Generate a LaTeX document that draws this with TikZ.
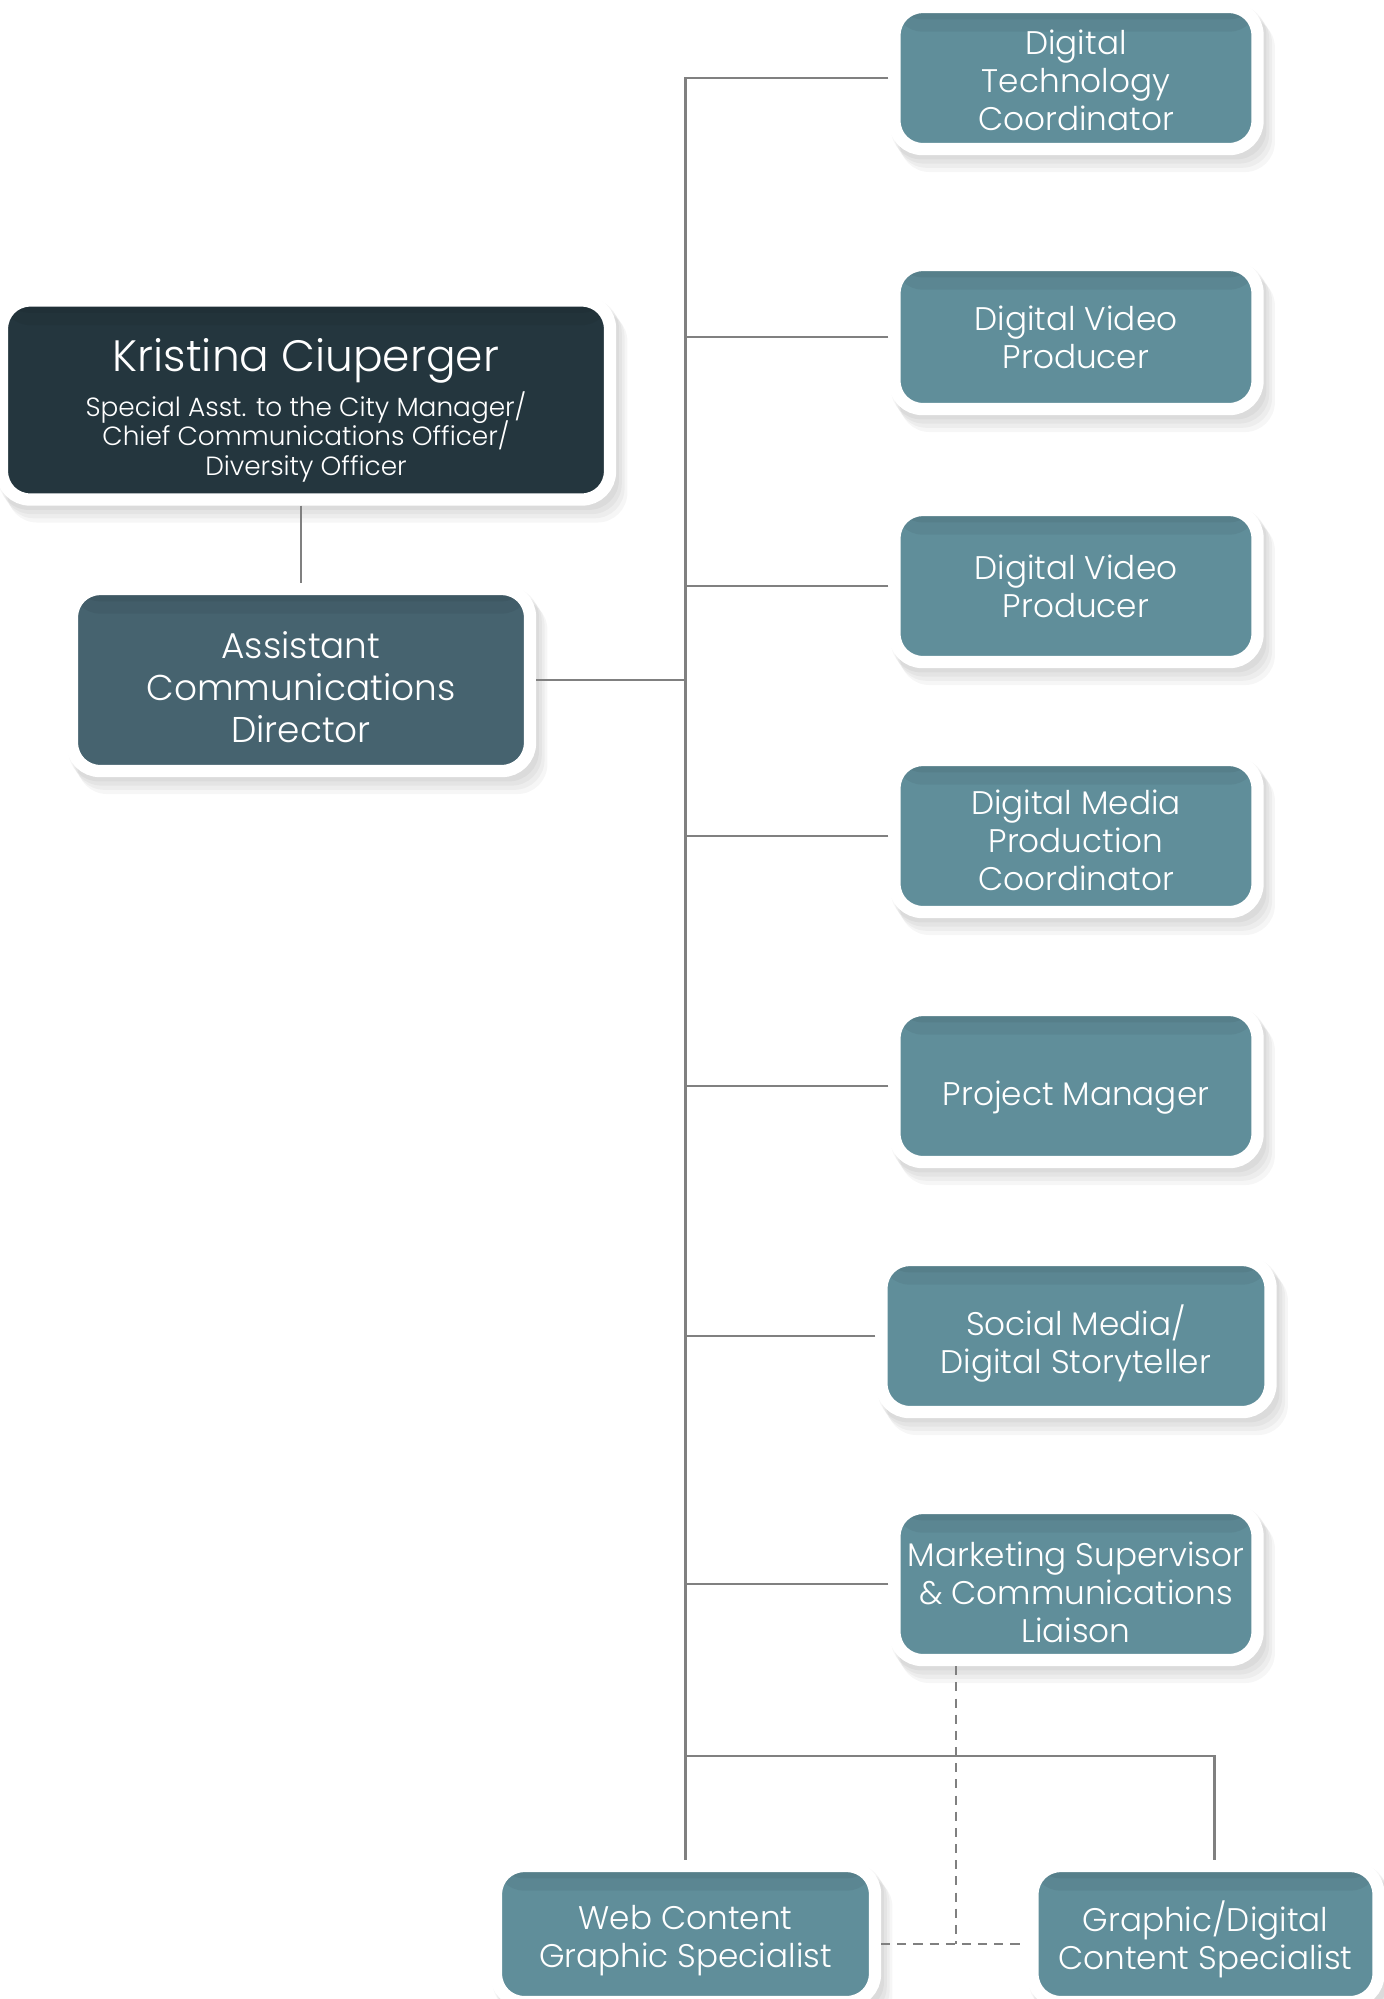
\documentclass[tikz,border=0pt]{standalone}
\usepackage{fontspec}
\setmainfont{Poppins Light}
\usetikzlibrary{backgrounds}

\definecolor{chiefbg}{RGB}{36,54,62}
\definecolor{deputybg}{RGB}{70,99,111}
\definecolor{staffbg}{RGB}{96,142,154}
\definecolor{linkgray}{RGB}{128,128,128}

\tikzset{
  card/.style={draw=white, line width=3.5pt, rounded corners=0.28cm, text=white,
    align=center, inner sep=0pt,
    path picture={
      \fill[black, opacity=0.05] (path picture bounding box.north west) rectangle ([yshift=-7pt]path picture bounding box.north east);
      \fill[black, opacity=0.05] (path picture bounding box.north west) rectangle ([yshift=-3.5pt]path picture bounding box.north east);}},
  staff/.style={card, fill=staffbg, minimum width=3.63cm, minimum height=1.52cm,
    font=\fontsize{9.3}{10.8}\selectfont},
  sink/.style={text depth=0pt, text height=#1},
  link/.style={draw=linkgray, line width=0.8pt},
  dotlink/.style={link, dash pattern=on 2.6pt off 2pt},
  haze/.style={fill=black, opacity=#1, rounded corners=0.3cm}
}

\begin{document}
\begin{tikzpicture}
	\useasboundingbox (0,0) rectangle (13.84,-19.99);

	\node[card, fill=chiefbg, minimum width=6.08cm, minimum height=1.99cm, sink=43.1pt,
		font={\fontsize{7.5}{8.5}\selectfont\lineskiplimit -10pt\relax}] (kc) at (3.06,-4.00)
		{\fontsize{12.5}{14}\selectfont Kristina Ciuperger\\[4.2pt]
		 Special Asst. to the City Manager/\\Chief Communications Officer/\\Diversity Officer};
	\node[card, fill=deputybg, minimum width=4.58cm, minimum height=1.82cm, sink=35.6pt,
		font=\fontsize{10.2}{11.9}\selectfont] (acd) at (3.01,-6.80) {Assistant\\Communications\\Director};

	\node[staff, minimum height=1.42cm, sink=29.7pt] (dtc) at (10.76,-0.78) {Digital\\Technology\\Coordinator};
	\node[staff, minimum height=1.44cm] (dvp1) at (10.76,-3.37) {Digital Video\\Producer};
	\node[staff] (dvp2) at (10.76,-5.86) {Digital Video\\Producer};
	\node[staff, sink=31.2pt] (dmpc) at (10.76,-8.36) {Digital Media\\Production\\Coordinator};
	\node[staff, sink=11.2pt] (pm) at (10.76,-10.86) {Project Manager};
	\node[staff, minimum width=3.89cm, sink=21.1pt] (smds) at (10.76,-13.36) {Social Media/\\Digital Storyteller};
	\node[staff, sink=33pt] (msc) at (10.76,-15.84) {Marketing Supervisor\\\& Communications\\Liaison};

	\node[staff, minimum width=3.79cm, minimum height=1.36cm, sink=19.3pt] (wcgs) at (6.855,-19.34) {Web Content\\Graphic Specialist};
	\node[staff, minimum width=3.46cm, minimum height=1.36cm, sink=20.4pt] (gdcs) at (12.055,-19.34) {Graphic/Digital\\Content Specialist};

	\coordinate (bus) at (6.86,-17.56);
	\coordinate (dj) at (9.56,-19.44);

	% reporting lines
	\draw[link] (kc.south -| acd.north) -- (acd.north);
	\draw[link] (acd.east) -- (acd.east -| wcgs.north);
	\draw[link] (dtc.west) -| (wcgs.north);
	\foreach \n in {dvp1,dvp2,dmpc,pm,smds,msc}
		\draw[link] (\n.west) -- (\n.west -| wcgs.north);
	\draw[link] (bus) -| ([xshift=0.09cm]gdcs.north);

	% dotted line to the specialists
	\draw[dotlink] (msc.south -| dj) -- (dj);
	\draw[dotlink] (dj -| wcgs.east) -- (dj -| gdcs.west);

	% soft shadows under the cards
	\begin{scope}[on background layer]
		\fill[white] (0,0) rectangle (13.84,-19.99);
		\foreach \n in {kc,acd,dtc,dvp1,dvp2,dmpc,pm,smds,msc,wcgs,gdcs}
			\foreach \d in {1,2,3,4}
				\fill[haze=0.035] ([shift={(0.8*\d pt,-1.2*\d pt)}]\n.south west) rectangle ([shift={(0.8*\d pt,-1.2*\d pt)}]\n.north east);
	\end{scope}
\end{tikzpicture}
\end{document}
